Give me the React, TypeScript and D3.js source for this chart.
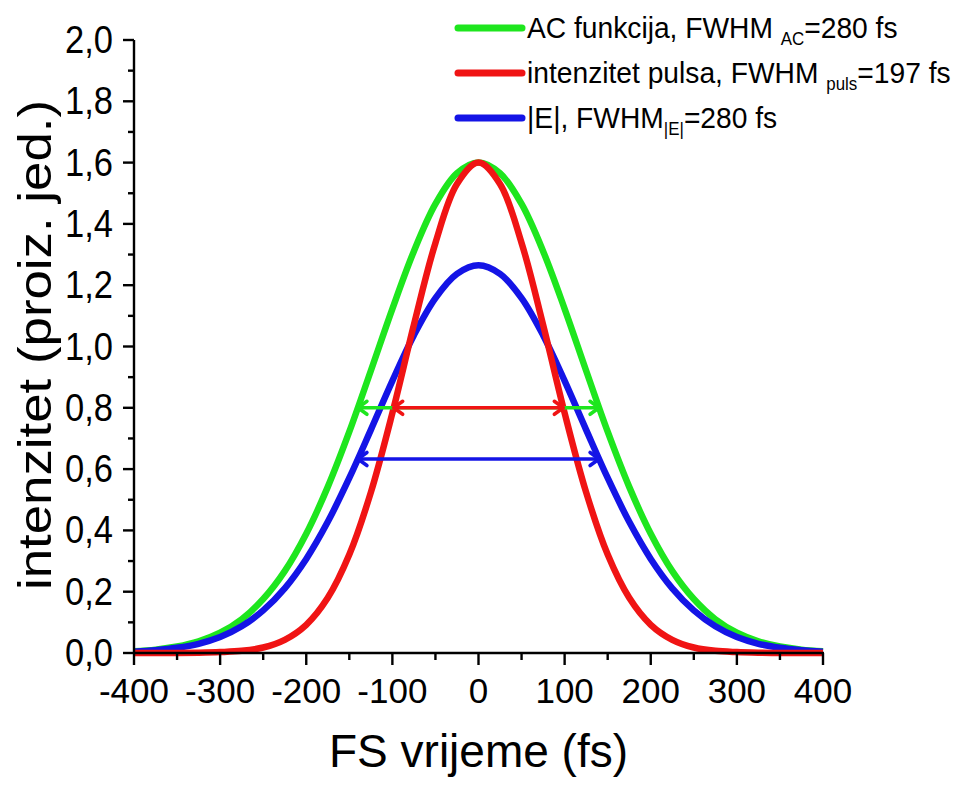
import React from "react";
import * as d3 from "d3";

const timeFs = [-400, -375, -350, -325, -300, -275, -250, -225, -200, -175, -150, -125, -100, -75, -50, -25, 0, 25, 50, 75, 100, 125, 150, 175, 200, 225, 250, 275, 300, 325, 350, 375, 400];
const acValues = [0.006, 0.011, 0.021, 0.038, 0.066, 0.110, 0.176, 0.267, 0.389, 0.542, 0.722, 0.921, 1.123, 1.311, 1.465, 1.565, 1.6, 1.565, 1.465, 1.311, 1.123, 0.921, 0.722, 0.542, 0.389, 0.267, 0.176, 0.110, 0.066, 0.038, 0.021, 0.011, 0.006];
const pulseValues = [0, 0, 0, 0.001, 0.003, 0.007, 0.018, 0.043, 0.092, 0.180, 0.321, 0.524, 0.783, 1.071, 1.338, 1.530, 1.6, 1.530, 1.338, 1.071, 0.783, 0.524, 0.321, 0.180, 0.092, 0.043, 0.018, 0.007, 0.003, 0.001, 0, 0, 0];
const fieldValues = [0.004, 0.009, 0.017, 0.030, 0.052, 0.087, 0.139, 0.211, 0.307, 0.428, 0.571, 0.728, 0.888, 1.037, 1.158, 1.237, 1.265, 1.237, 1.158, 1.037, 0.888, 0.728, 0.571, 0.428, 0.307, 0.211, 0.139, 0.087, 0.052, 0.030, 0.017, 0.009, 0.004];

const xTicks = [-400, -300, -200, -100, 0, 100, 200, 300, 400];
const yTicks = [0, 0.2, 0.4, 0.6, 0.8, 1.0, 1.2, 1.4, 1.6, 1.8, 2.0];

// FWHM markers: [y level, x start, x end]
const acFwhm = [0.8, -140, 140];
const pulseFwhm = [0.8, -98.5, 98.5];
const fieldFwhm = [0.633, -140, 140];

const GREEN = "#1ee61e";
const RED = "#f01414";
const BLUE = "#1414e6";

const legendItems = [
  { color: GREEN, main: "AC funkcija, FWHM ", sub: "AC", tail: "=280 fs" },
  { color: RED, main: "intenzitet pulsa, FWHM ", sub: "puls", tail: "=197 fs" },
  { color: BLUE, main: "|E|, FWHM", sub: "|E|", tail: "=280 fs" },
];

const FONT = "Liberation Sans, Arial, sans-serif";

export default function App() {
  const W = 957, H = 792;
  const x = d3.scaleLinear().domain([-400, 400]).range([134, 823]);
  const y = d3.scaleLinear().domain([0, 2]).range([653, 40]);

  const line = d3
    .line<number>()
    .x((_, i) => x(timeFs[i]))
    .y((d) => y(d))
    .curve(d3.curveCatmullRom);

  const minorX = d3.range(-350, 400, 100);
  const minorY = d3.range(0.1, 2.0, 0.2);

  const arrow = (m: number[], color: string, key: string) => {
    const [lv, a, b] = m;
    const yy = y(lv);
    const x1 = x(a), x2 = x(b);
    const hl = 9, hw = 6.5;
    return (
      <g key={key} stroke={color} strokeWidth={3.6} fill="none" strokeLinecap="round" strokeLinejoin="round">
        <line x1={x1 + 1} y1={yy} x2={x2 - 1} y2={yy} />
        <polyline points={`${x1 + hl},${yy - hw} ${x1},${yy} ${x1 + hl},${yy + hw}`} />
        <polyline points={`${x2 - hl},${yy - hw} ${x2},${yy} ${x2 - hl},${yy + hw}`} />
      </g>
    );
  };

  return (
    <svg width={W} height={H} style={{ position: "absolute", left: 0, top: 0, background: "#fff" }} fontFamily={FONT}>
      {/* curves */}
      <path d={line(acValues) || ""} fill="none" stroke={GREEN} strokeWidth={6.5} />
      <path d={line(fieldValues) || ""} fill="none" stroke={BLUE} strokeWidth={6.5} />
      <path d={line(pulseValues) || ""} fill="none" stroke={RED} strokeWidth={6.5} />

      {arrow(acFwhm, GREEN, "ac")}
      {arrow(pulseFwhm, RED, "pu")}
      {arrow(fieldFwhm, BLUE, "fi")}

      {/* axes */}
      <g stroke="#000" strokeWidth={2.4}>
        <line x1={x(-400)} y1={y(0)} x2={x(400) + 1} y2={y(0)} />
        <line x1={x(-400)} y1={y(0) + 1} x2={x(-400)} y2={y(2)} />
        {xTicks.map((t) => (
          <line key={"xt" + t} x1={x(t)} x2={x(t)} y1={y(0)} y2={y(0) + 12} />
        ))}
        {minorX.map((t) => (
          <line key={"xm" + t} x1={x(t)} x2={x(t)} y1={y(0)} y2={y(0) + 7} />
        ))}
        {yTicks.map((t) => (
          <line key={"yt" + t} x1={x(-400) - 11} x2={x(-400)} y1={y(t)} y2={y(t)} />
        ))}
        {minorY.map((t) => (
          <line key={"ym" + t.toFixed(1)} x1={x(-400) - 6} x2={x(-400)} y1={y(t)} y2={y(t)} />
        ))}
      </g>

      {xTicks.map((t) => (
        <text key={"xl" + t} x={x(t)} y={y(0) + 50} textAnchor="middle" fontSize={35} fill="#000">
          {t}
        </text>
      ))}
      {yTicks.map((t) => (
        <text
          key={"yl" + t}
          x={65}
          y={y(t) + 13}
          fontSize={38}
          fill="#000"
          textLength={48}
          lengthAdjust="spacingAndGlyphs"
        >
          {t.toFixed(1).replace(".", ",")}
        </text>
      ))}

      <text x={x(0)} y={767} textAnchor="middle" fontSize={46} fill="#000">
        FS vrijeme (fs)
      </text>
      <text
        transform={`translate(51, 590) rotate(-90)`}
        fontSize={46}
        fill="#000"
        textLength={490}
        lengthAdjust="spacingAndGlyphs"
      >
        intenzitet (proiz. jed.)
      </text>

      {/* legend */}
      {legendItems.map((it, i) => {
        const ly = 28 + i * 45;
        return (
          <g key={"lg" + i}>
            <line x1={458} x2={522} y1={ly} y2={ly} stroke={it.color} strokeWidth={7} strokeLinecap="round" />
            <g transform={`translate(527, ${ly + 10}) scale(0.94, 1)`}>
              <text x={0} y={0} fontSize={30} fill="#000">
                {it.main}
                <tspan fontSize={18} dy={7}>{it.sub}</tspan>
                <tspan dy={-7}>{it.tail}</tspan>
              </text>
            </g>
          </g>
        );
      })}
    </svg>
  );
}
